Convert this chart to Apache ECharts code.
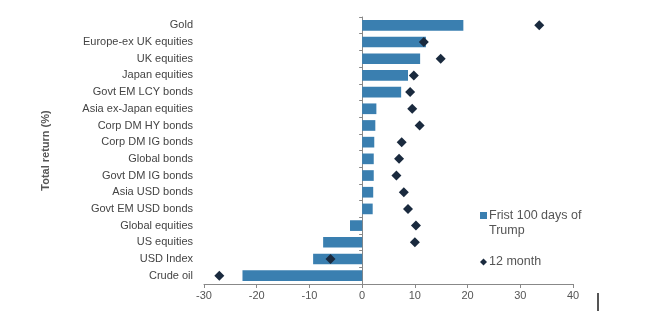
<!DOCTYPE html>
<html>
<head>
<meta charset="utf-8">
<script src="https://cdn.jsdelivr.net/npm/echarts@6/dist/echarts.min.js"></script>
<style>html,body{margin:0;padding:0;background:#fff}#c{width:646px;height:326px}</style>
</head>
<body>
<div id="c"></div>
<script>
var categories = ["Gold","Europe-ex UK equities","UK equities","Japan equities","Govt EM LCY bonds","Asia ex-Japan equities","Corp DM HY bonds","Corp DM IG bonds","Global bonds","Govt DM IG bonds","Asia USD bonds","Govt EM USD bonds","Global equities","US equities","USD Index","Crude oil"];
var first100 = [19.2, 12.1, 11.0, 8.7, 7.4, 2.7, 2.5, 2.3, 2.2, 2.2, 2.1, 2.0, -2.3, -7.4, -9.3, -22.7];
var month12 = [33.6, 11.7, 14.9, 9.8, 9.1, 9.5, 10.9, 7.5, 7.0, 6.5, 7.9, 8.7, 10.2, 10.0, -6.0, -27.1];
var xTicks = [-30, -20, -10, 0, 10, 20, 30, 40];
var seriesNames = ["Frist 100 days of\nTrump", "12 month"];

var barColor = '#3a7fb0', dotColor = '#1a2a3e';
var chart = echarts.init(document.getElementById('c'));
var font = 'Liberation Sans, Arial, sans-serif';
chart.setOption({
  animation: false,
  textStyle: {fontFamily: font},
  grid: {left: 204, right: 73, top: 17, bottom: 42},
  xAxis: {
    type: 'value', min: xTicks[0], max: xTicks[xTicks.length-1], interval: 10,
    splitLine: {show: false},
    axisLine: {show: true, onZero: false, lineStyle: {color: '#888'}},
    axisTick: {show: true, length: 4, lineStyle: {color: '#888'}},
    axisLabel: {color: '#555', fontSize: 11, margin: 6}
  },
  yAxis: [{
    type: 'category', data: categories, inverse: true,
    name: 'Total return (%)', nameLocation: 'middle', nameGap: 153, nameRotate: 90,
    nameTextStyle: {fontWeight: 'bold', color: '#555', fontSize: 11},
    axisLine: {show: false, onZero: false},
    axisTick: {show: false},
    axisLabel: {color: '#444', fontSize: 11, margin: 11}
  }, {
    type: 'category', data: categories, inverse: true, position: 'left',
    axisLine: {show: true, onZero: true, lineStyle: {color: '#888'}},
    axisTick: {show: true, length: 3, lineStyle: {color: '#888'}},
    axisLabel: {show: false}
  }],
  series: [{
    name: seriesNames[0], type: 'bar', data: first100, barCategoryGap: '36%',
    itemStyle: {color: barColor}
  }, {
    name: seriesNames[1], type: 'scatter', data: month12, symbol: 'diamond', symbolSize: 10,
    itemStyle: {color: dotColor, opacity: 1}
  }],
  graphic: [
    {type: 'rect', shape: {x: 480, y: 212, width: 7, height: 7}, style: {fill: barColor}},
    {type: 'text', left: 489, top: 208, style: {text: seriesNames[0], fill: '#555', fontSize: 12.5, lineHeight: 15, fontFamily: font}},
    {type: 'polygon', shape: {points: [[483.5, 258.5], [487, 262], [483.5, 265.5], [480, 262]]}, style: {fill: dotColor}},
    {type: 'text', left: 489, top: 255, style: {text: seriesNames[1], fill: '#555', fontSize: 12.5, fontFamily: font}},
    {type: 'line', shape: {x1: 598, y1: 293, x2: 598, y2: 311}, style: {stroke: '#555', lineWidth: 2}}
  ]
});
</script>
</body>
</html>
